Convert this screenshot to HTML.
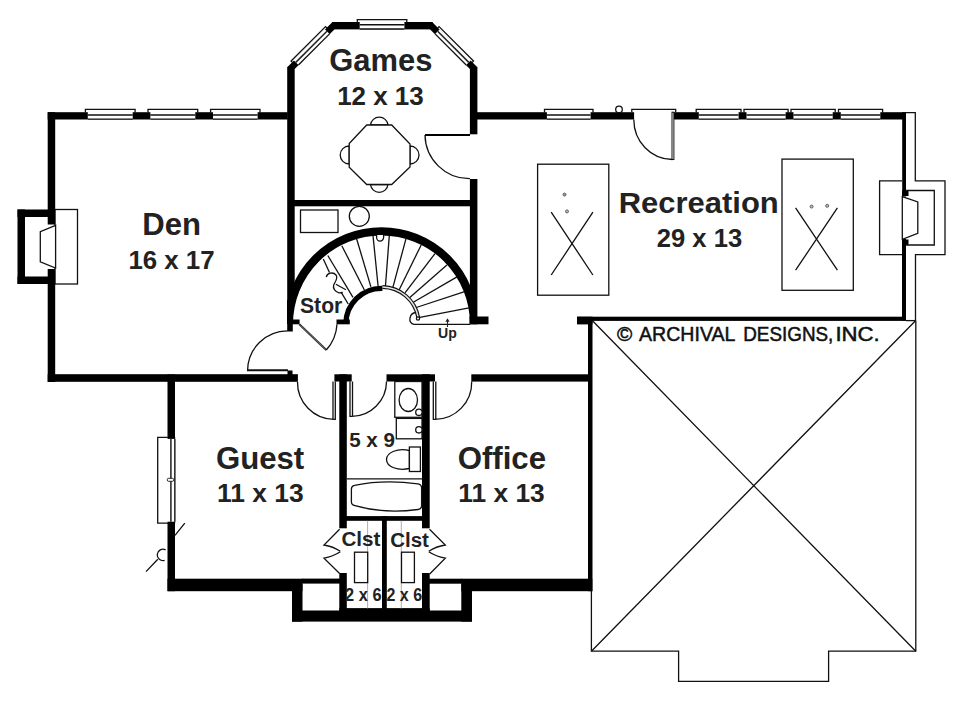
<!DOCTYPE html>
<html>
<head>
<meta charset="utf-8">
<title>Floor Plan</title>
<style>
html,body{margin:0;padding:0;background:#fff;}
body{width:960px;height:707px;overflow:hidden;font-family:"Liberation Sans",sans-serif;}
svg{display:block;}
.w{fill:#000;stroke:none;}
.t{fill:none;stroke:#111;stroke-width:1.3;}
.tw{fill:#fff;stroke:#111;stroke-width:1.3;}
.g{fill:none;stroke:#999;stroke-width:0.8;}
text{font-family:"Liberation Sans",sans-serif;font-weight:bold;fill:#222;}
.rm{font-size:30px;}
.dm{font-size:24px;}
</style>
</head>
<body>
<svg width="960" height="707" viewBox="0 0 960 707">
<defs><clipPath id="stclip"><rect x="287" y="220" width="190" height="104.3"/></clipPath></defs>
<rect x="0" y="0" width="960" height="707" fill="#fff"/>

<g id="garage">
<path class="t" d="M591.4 591 V651.2 H678.6 V681.3 H828.6 V651.2 H915.8 V320.5"/>
<path class="t" d="M592.5 320.8 L915.8 651.2 M915.5 320.8 L591.4 651.2"/>
</g>
<g id="den">
<rect class="tw" x="55" y="209.5" width="22.5" height="74.5"/>
<rect class="w" x="47.7" y="112.2" width="240" height="7.3"/>
<rect class="w" x="47.7" y="112.2" width="7.5" height="112.3"/>
<rect class="w" x="47.7" y="269" width="7.5" height="113"/>
<rect class="w" x="47.7" y="374.2" width="250.2" height="7.6"/>
<rect class="w" x="287.5" y="370.5" width="5" height="5"/>
<rect class="w" x="17.5" y="209.5" width="37.5" height="7.5"/>
<rect class="w" x="17.5" y="276.5" width="37.5" height="7.5"/>
<rect class="w" x="17.5" y="209.5" width="7.5" height="74.5"/>
<path class="tw" d="M55.6 225.3 L40.3 231.7 V261.9 L55.6 268 Z"/>
<rect x="87.8" y="111.7" width="44.9" height="7.8" fill="#fff"/>
<path class="t" d="M85.4 112.5 V109.3 H135.1 V112.5"/>
<line x1="87.8" y1="114.9" x2="132.7" y2="114.9" stroke="#111" stroke-width="1.5"/>
<line class="t" x1="87.8" y1="119.1" x2="132.7" y2="119.1"/>
<rect x="150.4" y="111.7" width="44.9" height="7.8" fill="#fff"/>
<path class="t" d="M148.0 112.5 V109.3 H197.7 V112.5"/>
<line x1="150.4" y1="114.9" x2="195.3" y2="114.9" stroke="#111" stroke-width="1.5"/>
<line class="t" x1="150.4" y1="119.1" x2="195.3" y2="119.1"/>
<rect x="213.0" y="111.7" width="44.6" height="7.8" fill="#fff"/>
<path class="t" d="M210.6 112.5 V109.3 H260.0 V112.5"/>
<line x1="213.0" y1="114.9" x2="257.6" y2="114.9" stroke="#111" stroke-width="1.5"/>
<line class="t" x1="213.0" y1="119.1" x2="257.6" y2="119.1"/>
<path class="t" d="M247.6 370.5 A40 40 0 0 1 287.5 330.8" stroke-width="1.4"/><line x1="247" y1="370.3" x2="288" y2="370.3" stroke="#111" stroke-width="2.1"/>
</g>
<g id="games">
<rect class="w" x="287.2" y="67" width="7.5" height="237"/>
<rect class="w" x="287.2" y="300" width="5.6" height="31.5"/>
<polygon class="w" points="287.2,67.3 332.5,22 334.4,29.4 294.7,69.1"/>
<polygon class="w" points="477.4,67.3 432.1,22 430.2,29.4 469.9,69.1"/>
<rect class="w" x="332" y="22" width="100.6" height="7.4"/>
<rect class="w" x="469.9" y="67" width="7.5" height="67.3"/>
<rect class="w" x="469.9" y="179" width="7.5" height="145.3"/>
<rect class="w" x="294" y="200" width="176" height="6.3"/>
<rect x="359.7" y="21.5" width="44.7" height="7.9" fill="#fff"/>
<path class="t" d="M357.3 22.3 V19.6 H406.8 V22.3"/>
<line x1="359.7" y1="24.7" x2="404.4" y2="24.7" stroke="#111" stroke-width="1.5"/>
<line class="t" x1="359.7" y1="29.0" x2="404.4" y2="29.0"/>
<g transform="translate(292.4,62.4) rotate(-45)"><rect x="2.4" y="-0.6" width="44.0" height="7.1" fill="#fff"/><path class="t" d="M0 0.3 V-1.9 H48.8 V0.3"/><line x1="2.4" y1="2.4" x2="46.4" y2="2.4" stroke="#222" stroke-width="1.5"/><line class="t" x1="2.4" y1="6.1" x2="46.4" y2="6.1"/></g>
<g transform="translate(472.2,62.4) scale(-1,1) rotate(-45)"><rect x="2.4" y="-0.6" width="44.0" height="7.1" fill="#fff"/><path class="t" d="M0 0.3 V-1.9 H48.8 V0.3"/><line x1="2.4" y1="2.4" x2="46.4" y2="2.4" stroke="#222" stroke-width="1.5"/><line class="t" x1="2.4" y1="6.1" x2="46.4" y2="6.1"/></g>

<path class="tw" d="M370.5 125 A8.8 8.8 0 0 1 388 125 Z"/>
<path class="tw" d="M370.5 184.5 A8.8 8.8 0 0 0 388 184.5 Z"/>
<path class="tw" d="M349.2 146 A9 9 0 0 0 349.2 164 Z"/>
<path class="tw" d="M410 146 A9 9 0 0 1 410 164 Z"/>
<polygon class="tw" points="366.7,125 391.7,125 410,144 410,167 391.7,184.5 366.7,184.5 349.2,167.3 349.2,143.5" stroke-width="1.6"/>
<path class="t" d="M425 135 A44.5 44.5 0 0 0 469.9 178.7" stroke-width="1.5"/><line x1="425" y1="135" x2="470" y2="135" stroke="#000" stroke-width="1.8"/>
</g>
<g id="stairs">
<rect class="tw" x="300.5" y="210" width="37.5" height="22.5"/>
<circle class="tw" cx="359.3" cy="216.3" r="10"/>
<g class="t">
<line x1="323.3" y1="259" x2="329.5" y2="272.5"/>
<line x1="341.4" y1="292.7" x2="348.2" y2="304"/>
<line x1="327.8" y1="255.5" x2="353" y2="297.4"/>
<line x1="341.8" y1="245.7" x2="364.4" y2="290"/>
<line x1="356.6" y1="238.7" x2="370.9" y2="286.9"/>
<line x1="373" y1="235.6" x2="378.1" y2="286.2"/>
<line x1="389.3" y1="235.6" x2="385.4" y2="286.7"/>
<line x1="406" y1="238.7" x2="392.8" y2="287.6"/>
<line x1="421.3" y1="244.7" x2="399.2" y2="289.8"/>
<line x1="435" y1="253.6" x2="405" y2="292.8"/>
<line x1="446.9" y1="265.1" x2="409.8" y2="297.4"/>
<line x1="457" y1="276.9" x2="413.3" y2="302.2"/>
<line x1="464.6" y1="291.6" x2="416.3" y2="307.5"/>
<line x1="469" y1="307.8" x2="418.6" y2="317.6"/>
</g>
<path d="M288.85 324 A92.65 92.65 0 0 1 474.15 324" fill="none" stroke="#000" stroke-width="8.3" clip-path="url(#stclip)"/>
<path d="M345.85 324 A35.65 35.65 0 0 1 382.5 288.35" fill="none" stroke="#000" stroke-width="5.3"/>
<path d="M382.5 287 A37 37 0 0 1 418.2 317.5" fill="none" stroke="#111" stroke-width="3.9"/>
<path d="M382.5 287 A37 37 0 0 1 418.2 317.5" fill="none" stroke="#e8e8e8" stroke-width="1.5"/>
<path class="t" d="M416 312.5 C409 313,407.5 323.5,414 324.3 H470"/>
<circle class="tw" cx="418" cy="318.5" r="1.6"/>
<rect class="w" x="292" y="319.5" width="7.6" height="4.8"/>
<rect class="w" x="336.5" y="319.5" width="13.3" height="4.8"/>
<rect class="w" x="469.5" y="316.5" width="19" height="7.8"/>
<path d="M299.3 324.2 L326.3 350" fill="none" stroke="#2a2a2a" stroke-width="2.1"/>
<path d="M300.3 325.2 L325.6 349.3" fill="none" stroke="#aaa" stroke-width="0.5"/>
<path class="t" d="M326.3 350 A42 42 0 0 0 337 324.3"/>
<path class="tw" d="M376.6 235 V237.6 A3.5 3.5 0 0 0 383.6 237.6 V235"/>
<path class="t" d="M326.3 277.1 C327 273,333 271.5,336 275 C338.5 278,335 282,333.7 285 C332.5 288.5,335.5 292,339 292.8 C340.5 293,341.8 292.6,342.6 292.1 M335.9 284.3 L345.9 289.7"/>
<path d="M447.5 327 V319.5" fill="none" stroke="#222" stroke-width="1.1"/>
<path d="M445.4 321.8 L447.5 318.2 L449.6 321.8 Z" fill="#222"/>
</g>
<g id="rec">
<rect class="w" x="477" y="112.2" width="429" height="7.3"/>
<rect x="634.1" y="111" width="39" height="9.5" fill="#fff"/>
<rect x="546.9" y="111.7" width="43.7" height="7.8" fill="#fff"/>
<path class="t" d="M544.5 112.5 V109.3 H593.0 V112.5"/>
<line x1="546.9" y1="114.9" x2="590.6" y2="114.9" stroke="#111" stroke-width="1.5"/>
<line class="t" x1="546.9" y1="119.1" x2="590.6" y2="119.1"/>
<rect x="698.8" y="111.7" width="39.8" height="7.8" fill="#fff"/>
<path class="t" d="M696.2 112.5 V109.3 H741.0 V112.5"/>
<line x1="698.8" y1="114.9" x2="738.5" y2="114.9" stroke="#111" stroke-width="1.5"/>
<line class="t" x1="698.8" y1="119.1" x2="738.5" y2="119.1"/>
<rect x="746.5" y="111.7" width="39.1" height="7.8" fill="#fff"/>
<path class="t" d="M744.0 112.5 V109.3 H788.1 V112.5"/>
<line x1="746.5" y1="114.9" x2="785.6" y2="114.9" stroke="#111" stroke-width="1.5"/>
<line class="t" x1="746.5" y1="119.1" x2="785.6" y2="119.1"/>
<rect x="793.5" y="111.7" width="39.2" height="7.8" fill="#fff"/>
<path class="t" d="M791.0 112.5 V109.3 H835.2 V112.5"/>
<line x1="793.5" y1="114.9" x2="832.8" y2="114.9" stroke="#111" stroke-width="1.5"/>
<line class="t" x1="793.5" y1="119.1" x2="832.8" y2="119.1"/>
<rect x="840.8" y="111.7" width="39.5" height="7.8" fill="#fff"/>
<path class="t" d="M838.5 112.5 V109.3 H882.6 V112.5"/>
<line x1="840.8" y1="114.9" x2="880.3" y2="114.9" stroke="#111" stroke-width="1.5"/>
<line class="t" x1="840.8" y1="119.1" x2="880.3" y2="119.1"/>
<path class="t" d="M631.8 112.3 V109.3 H675.7 V112.3"/>
<path class="t" d="M633.8 119.5 A38.6 40 0 0 0 672.4 159.5"/>
<rect x="672" y="112.2" width="1.9" height="47.3" fill="#fff" stroke="#111" stroke-width="1"/>
<circle class="tw" cx="619" cy="109.4" r="3.3" stroke-width="1.3"/>
<rect class="w" x="902.2" y="112.2" width="3.8" height="84.3"/>
<rect class="w" x="902" y="239" width="4" height="81.5"/>
<rect class="w" x="902" y="190.5" width="6.5" height="5.5"/>
<rect class="w" x="902" y="239.5" width="6.5" height="5.5"/>
<path class="t" d="M906 112.6 H915.3 V180.8 H945 V254.7 H915.5 V320.5"/>
<path class="t" d="M906 190.5 H934.3 V245 H906"/>
<path class="t" d="M902 180.8 H879.6 V254.7 H902"/>
<path class="tw" d="M902.3 196.7 L917.8 202 V233.3 L902.3 239.3 Z"/><path class="t" d="M906 320.6 H915.8"/>
<rect class="w" x="577" y="316.7" width="329" height="4.2"/>
<rect class="w" x="577" y="316.7" width="15.5" height="7.7"/>
<rect class="tw" x="537.6" y="164.2" width="71.2" height="131"/>
<rect class="tw" x="782" y="159.1" width="71.3" height="131.2"/>
<path class="t" stroke="#333" d="M551.2 212.2 L592.9 275 M592.9 212.2 L551.2 275"/>
<path class="t" stroke="#333" d="M795.6 207.9 L837.4 270.2 M837.4 207.9 L795.6 270.2"/>
<circle cx="564.5" cy="194.6" r="1.5" fill="#999" stroke="#555" stroke-width="0.9"/>
<circle cx="567" cy="211.4" r="1.5" fill="#bbb" stroke="#555" stroke-width="0.9"/>
<circle cx="811.6" cy="206.6" r="1.5" fill="#bbb" stroke="#555" stroke-width="0.9"/>
<circle cx="827.2" cy="205.8" r="1.5" fill="#bbb" stroke="#555" stroke-width="0.9"/>
</g>
<g id="lower">
<rect class="w" x="167.5" y="374.5" width="7.5" height="63"/>
<rect class="w" x="167.6" y="437" width="7.6" height="86.5"/>
<g transform="translate(167.6,437.4) rotate(90) scale(1,-1)"><rect x="1.5" y="-0.6" width="82.8" height="8.2" fill="#fff"/><path class="t" d="M0 0.3 V-9.9 H85.8 V0.3"/><line x1="1.5" y1="3.3" x2="84.3" y2="3.3" stroke="#222" stroke-width="1.5"/><line class="t" x1="1.5" y1="7.2" x2="84.3" y2="7.2"/><rect x="40.9" y="-0.3" width="3" height="6.4" rx="1.2" fill="#fff" stroke="#111" stroke-width="0.9"/></g>
<rect class="w" x="167.5" y="578.7" width="135" height="12.5"/>
<rect class="w" x="302" y="578.6" width="38" height="5"/>
<rect class="w" x="292" y="584" width="10.5" height="37.6"/>
<rect class="w" x="292" y="610.5" width="180" height="11.1"/>
<rect class="w" x="339.3" y="608.1" width="90.4" height="5"/>
<rect class="w" x="461.3" y="584" width="10.7" height="37.6"/>
<rect class="w" x="461.3" y="578.7" width="131" height="12.5"/>
<rect class="w" x="429" y="578.7" width="33" height="5"/>
<rect class="w" x="588" y="320" width="4.5" height="271.2"/>
<rect class="w" x="471.3" y="374.3" width="118" height="7.3"/>
<rect class="w" x="339.3" y="374.3" width="7.5" height="154"/>
<rect class="w" x="339.3" y="573" width="7.5" height="43"/>
<rect class="w" x="334.4" y="374.3" width="17.3" height="7.2"/>
<rect class="w" x="386.5" y="374.3" width="48.5" height="7.2"/>
<rect class="w" x="422" y="374.3" width="7.7" height="154"/>
<rect class="w" x="422" y="573" width="7.7" height="43"/>
<rect class="w" x="346" y="516.1" width="77" height="4.7"/>
<rect class="w" x="382" y="516.1" width="4.8" height="100"/>
<path class="g" d="M367.6 520.7 V608.5 M401.3 520.7 V608.5"/>
<rect class="tw" x="354.5" y="552.2" width="13.2" height="30.4"/>
<rect class="tw" x="401.5" y="552.2" width="12.9" height="30.4"/>
<path class="t" stroke-width="1.7" d="M339.6 529.2 L324 545 Q333 546.5,340.3 551.3 M340.3 551.7 Q333 556.5,324 558.2 L339.6 573.5"/>
<path class="t" stroke-width="1.7" d="M429.5 529.2 L445.3 545 Q436 546.5,428.8 551.3 M428.8 551.7 Q436 556.5,445.3 558.2 L429.7 574"/>
<path class="t" d="M333 381.5 V419.4 H335.3 V381.5 M334 419.4 A37 37 0 0 1 297.5 382"/>
<path class="t" d="M350 381.5 V416.3 H352.5 V381.5 M352 416.3 A35 35 0 0 0 386.5 381.5"/>
<path class="t" d="M433.3 381.5 V419.4 H435.8 V381.5 M435 419.4 A37 37 0 0 0 471.7 381.5"/>
<rect class="tw" x="394.8" y="381.5" width="27.2" height="35.8"/>
<ellipse class="tw" cx="408.3" cy="400" rx="9.2" ry="11.5"/>
<circle class="tw" cx="418.9" cy="412.3" r="3.2" stroke-width="1.5"/>
<rect class="tw" x="396.3" y="418.4" width="25.7" height="20.4" stroke-width="1.9"/>
<circle class="tw" cx="418.9" cy="429.8" r="3.2" stroke-width="1.5"/>
<path class="tw" d="M409.4 450.5 C398 448,386.5 452,386.5 459.6 C386.5 467,398 471,409.4 468.5 Z"/>
<rect class="tw" x="409.4" y="447" width="11" height="24.5"/>
<line class="t" x1="346.8" y1="478.8" x2="422" y2="478.8"/>
<path class="tw" d="M351.4 489 Q351.4 485.8,354.5 485.3 Q384 479.3,418 483.8 Q421.6 484.3,421.6 488 L421.6 505.5 Q421.6 509,418 509.5 Q384 514,355 505.6 Q351.4 504.8,351.4 502 Z"/>
<path class="t" d="M146 571.6 L157.8 559.2 M175 535.4 L184.8 523.2"/>
<rect class="w" x="167.5" y="522.5" width="7.5" height="68.7"/>
<path class="t" d="M165.6 549.9 A5.7 5.7 0 1 0 164.6 560.4"/>
</g>
<g id="labels">
<text transform="translate(329.25,71.06) scale(0.999,1)" font-size="31.0">Games</text>
<text transform="translate(337.13,105.28) scale(1.0215,1)" font-size="25.4">12 x 13</text>
<text transform="translate(142.26,234.81) scale(1.0029,1)" font-size="31.0">Den</text>
<text transform="translate(128.38,268.84) scale(1.0174,1)" font-size="25.4">16 x 17</text>
<text transform="translate(618.77,212.71) scale(1.0187,1)" font-size="30.4">Recreation</text>
<text transform="translate(656.84,246.78) scale(1.007,1)" font-size="25.4">29 x 13</text>
<text transform="translate(215.89,468.81) scale(1.0062,1)" font-size="31.0">Guest</text>
<text transform="translate(217.1,501.93) scale(1.0396,1)" font-size="25.4">11 x 13</text>
<text transform="translate(457.63,468.81) scale(1.0065,1)" font-size="31.0">Office</text>
<text transform="translate(458.35,501.93) scale(1.0365,1)" font-size="25.4">11 x 13</text>
<text transform="translate(300.04,313.06) scale(0.9497,1)" font-size="22.23">Stor</text>
<text transform="translate(341.4,546.38) scale(1.0294,1)" font-size="20.0">Clst</text>
<text transform="translate(390.2,546.58) scale(1.0266,1)" font-size="20.0">Clst</text>
<text transform="translate(349.16,447.27) scale(1.0264,1)" font-size="20.11">5 x 9</text>
<text transform="translate(345.09,601.09) scale(0.9302,1)" font-size="17.6">2 x 6</text>
<text transform="translate(386.5,601.09) scale(0.9091,1)" font-size="17.6">2 x 6</text>
<text transform="translate(438.02,338.05) scale(0.9839,1)" font-size="14.32">Up</text>
<text transform="translate(617.04,340.6) scale(1.0441,1)" font-size="19.8" style="font-weight:normal;fill:#111;stroke:#111;stroke-width:0.5">©</text>
<text transform="translate(639.08,340.6) scale(0.9879,1)" font-size="19.8" style="font-weight:normal;fill:#111;stroke:#111;stroke-width:0.5">ARCHIVAL</text>
<text transform="translate(743.22,340.6) scale(0.9534,1)" font-size="19.8" style="font-weight:normal;fill:#111;stroke:#111;stroke-width:0.5">DESIGNS,</text>
<text transform="translate(835.42,340.6) scale(1.1216,1)" font-size="19.8" style="font-weight:normal;fill:#111;stroke:#111;stroke-width:0.5">INC.</text>
</g>
</svg>
</body>
</html>
